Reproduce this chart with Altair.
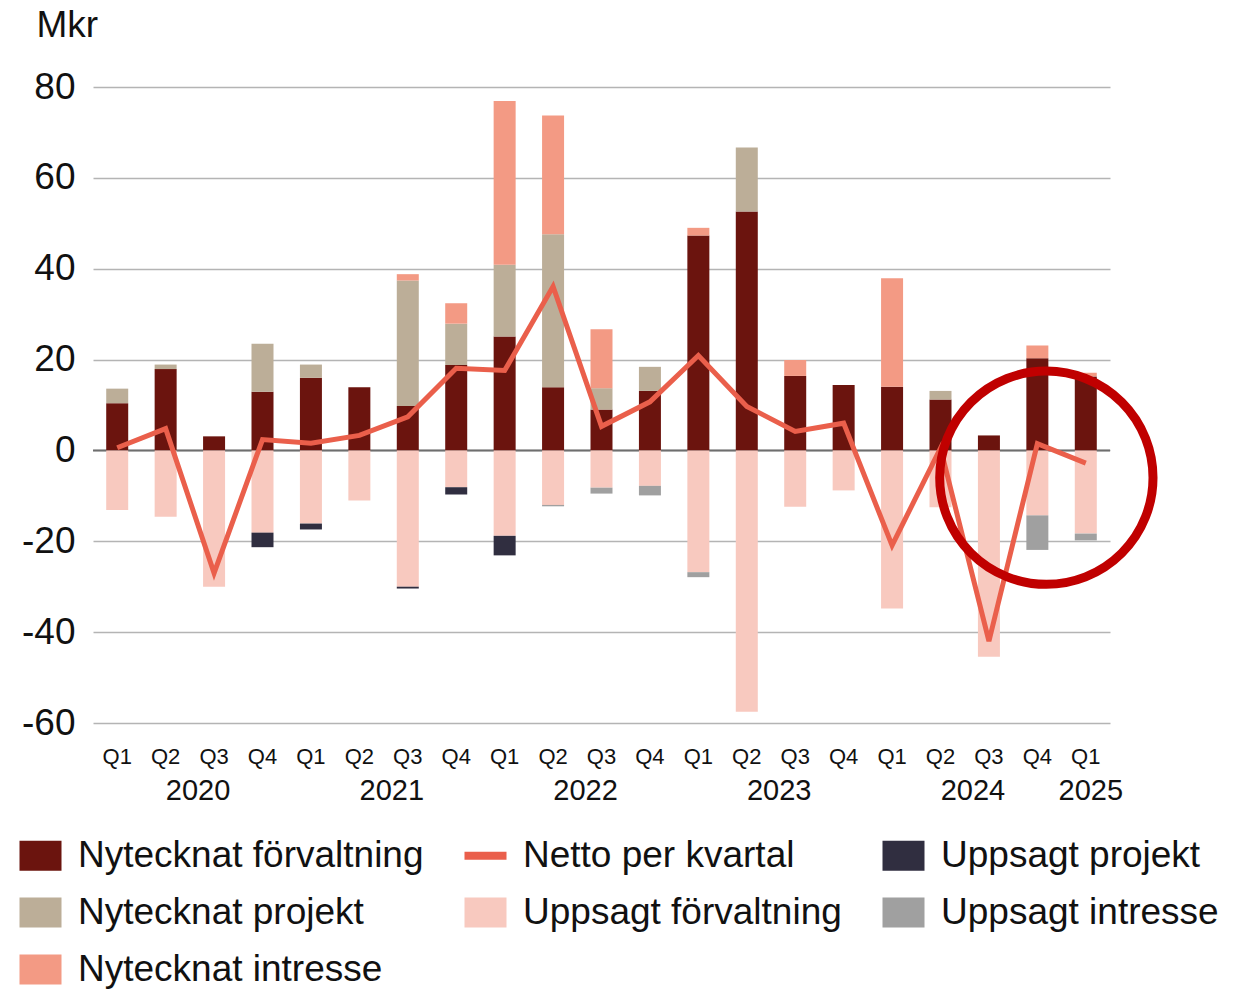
import altair as alt
import pandas as pd

periods = ["2020 Q1", "2020 Q2", "2020 Q3", "2020 Q4",
           "2021 Q1", "2021 Q2", "2021 Q3", "2021 Q4",
           "2022 Q1", "2022 Q2", "2022 Q3", "2022 Q4",
           "2023 Q1", "2023 Q2", "2023 Q3", "2023 Q4",
           "2024 Q1", "2024 Q2", "2024 Q3", "2024 Q4",
           "2025 Q1"]

nyt_forv = [10.4, 17.9, 3.1, 12.9, 16.0, 13.9, 9.8, 18.8, 25.1, 13.9, 9.0, 13.1,
            47.3, 52.6, 16.4, 14.4, 14.0, 11.2, 3.3, 20.3, 16.3]
nyt_proj = [3.2, 1.0, 0, 10.6, 2.9, 0, 27.6, 9.1, 15.8, 33.7, 4.7, 5.3,
            0, 14.1, 0, 0, 0, 1.9, 0, 0, 0]
nyt_intr = [0, 0, 0, 0, 0, 0, 1.4, 4.5, 36.0, 26.1, 13.0, 0,
            1.7, 0, 3.5, 0, 23.9, 0, 0, 2.8, 0.8]
upp_forv = [-13.1, -14.6, -30.0, -18.1, -16.1, -11.0, -30.0, -8.1, -18.8, -12.0, -8.2, -7.8,
            -26.8, -57.5, -12.4, -8.8, -34.8, -12.5, -45.4, -14.3, -18.3]
upp_proj = [0, 0, 0, -3.2, -1.3, 0, -0.4, -1.6, -4.3, 0, 0, 0,
            0, 0, 0, 0, 0, 0, 0, 0, 0]
upp_intr = [0, 0, 0, 0, 0, 0, 0, 0, 0, -0.3, -1.3, -2.1,
            -1.1, 0, 0, 0, 0, 0, 0, -7.6, -1.5]
netto = [0.6, 4.8, -27.0, 2.4, 1.6, 3.3, 7.4, 18.1, 17.6, 36.1, 5.3, 10.7,
         20.9, 9.7, 4.2, 6.0, -20.9, 0.5, -42.0, 1.5, -2.8]

year_labels = ["2020", "2021", "2022", "2023", "2024"]
year_anchor = ["2020 Q3", "2021 Q3", "2022 Q3", "2023 Q3", "2024 Q3"]
last_year = ["2025"]
last_anchor = ["2025 Q1"]

# legend order (row-major, 3 columns)
legend_names = ["Nytecknat förvaltning", "Netto per kvartal", "Uppsagt projekt",
                "Nytecknat projekt", "Uppsagt förvaltning", "Uppsagt intresse",
                "Nytecknat intresse"]
legend_colors = ["#6b140e", "#ea5f4b", "#302e40",
                 "#bcae98", "#f8c9bf", "#a0a0a0",
                 "#f39a84"]

series = [("Nytecknat förvaltning", nyt_forv, 1),
          ("Nytecknat projekt", nyt_proj, 2),
          ("Nytecknat intresse", nyt_intr, 3),
          ("Uppsagt förvaltning", upp_forv, 1),
          ("Uppsagt projekt", upp_proj, 2),
          ("Uppsagt intresse", upp_intr, 3)]

rows = []
for i, p in enumerate(periods):
    for name, vals, order in series:
        if vals[i] != 0:
            rows.append({"period": p, "serie": name, "value": vals[i], "ord": order})
bars_df = pd.DataFrame(rows)
line_df = pd.DataFrame({"period": periods, "value": netto})
years_df = pd.DataFrame({"period": year_anchor, "year": year_labels})
last_df = pd.DataFrame({"period": last_anchor, "year": last_year})
zero_df = pd.DataFrame({"value": [0]})
circle_df = pd.DataFrame({"period": ["2024 Q4"], "value": [-6.0]})

W, H = 1017, 636
FONT = "Liberation Sans"

xaxis = alt.Axis(title=None, labelExpr="split(datum.label, ' ')[1]",
                 labelAngle=0, labelFontSize=22, labelFont=FONT,
                 labelColor="#111", labelPadding=23, ticks=False,
                 domain=False, grid=False)
yaxis = alt.Axis(title="Mkr", values=[-60, -40, -20, 0, 20, 40, 60, 80],
                 labelExpr="'' + datum.value", labelFontSize=37,
                 labelFont=FONT, labelColor="#111", labelPadding=18,
                 ticks=False, domain=False, grid=True,
                 gridColor="#b4b4b4", gridWidth=1.5,
                 titleAngle=0, titleAlign="left", titleBaseline="alphabetic",
                 titleX=-57, titleY=-51, titleFontSize=37,
                 titleFontWeight="normal", titleFont=FONT,
                 titleColor="#111")
xscale = alt.Scale(paddingInner=0, paddingOuter=0)
yscale = alt.Scale(domain=[-60, 80], nice=False, zero=False)


def X():
    return alt.X("period:N", sort=periods, scale=xscale, axis=xaxis)


def Y(field="value:Q", **kw):
    return alt.Y(field, scale=yscale, axis=yaxis, **kw)


zero = alt.Chart(zero_df).mark_rule(color="#6e6e6e", strokeWidth=2).encode(
    y=Y())

bars = alt.Chart(bars_df).mark_bar(size=22).encode(
    x=X(),
    y=Y(stack="zero"),
    color=alt.Color("serie:N",
                    scale=alt.Scale(domain=legend_names, range=legend_colors),
                    legend=alt.Legend(
                        title=None, orient="none", legendX=-71, legendY=750,
                        direction="horizontal",
                        columns=3, columnPadding=40, rowPadding=19,
                        labelFontSize=37, labelFont=FONT, labelColor="#111",
                        labelOffset=19, labelLimit=0, padding=0,
                        symbolSize=900, symbolStrokeWidth=0, symbolOpacity=1,
                        symbolType={"expr": "datum.value == 'Netto per kvartal' ? 'M-1.4,-0.27H1.4V0.27H-1.4Z' : 'M-1.4,-1H1.4V1H-1.4Z'"})),
    order=alt.Order("ord:Q"),
)

line = alt.Chart(line_df).mark_line(color="#ea5f4b", strokeWidth=5,
                                     strokeJoin="miter").encode(
    x=X(), y=Y())

years = alt.Chart(years_df).mark_text(fontSize=29, font=FONT, color="#111",
                                      dx=-16, baseline="middle").encode(
    x=X(), y=alt.value(H + 68), text="year:N")
years_last = alt.Chart(last_df).mark_text(fontSize=29, font=FONT, color="#111",
                                          dx=5, baseline="middle").encode(
    x=X(), y=alt.value(H + 68), text="year:N")

circle = alt.Chart(circle_df).mark_point(shape="circle", filled=False,
                                         size=45500, strokeWidth=9,
                                         color="#c00000", opacity=1,
                                         xOffset=9).encode(
    x=X(), y=Y())

chart = alt.layer(zero, bars, line, years, years_last, circle).properties(
    width=W, height=H,
    autosize=alt.AutoSizeParams(type="none"),
    padding={"left": 85, "top": 79, "right": 130, "bottom": 267},
    background="white",
).configure_view(stroke=None)

chart.save("out.html", embed_options={"renderer": "svg", "actions": False})
